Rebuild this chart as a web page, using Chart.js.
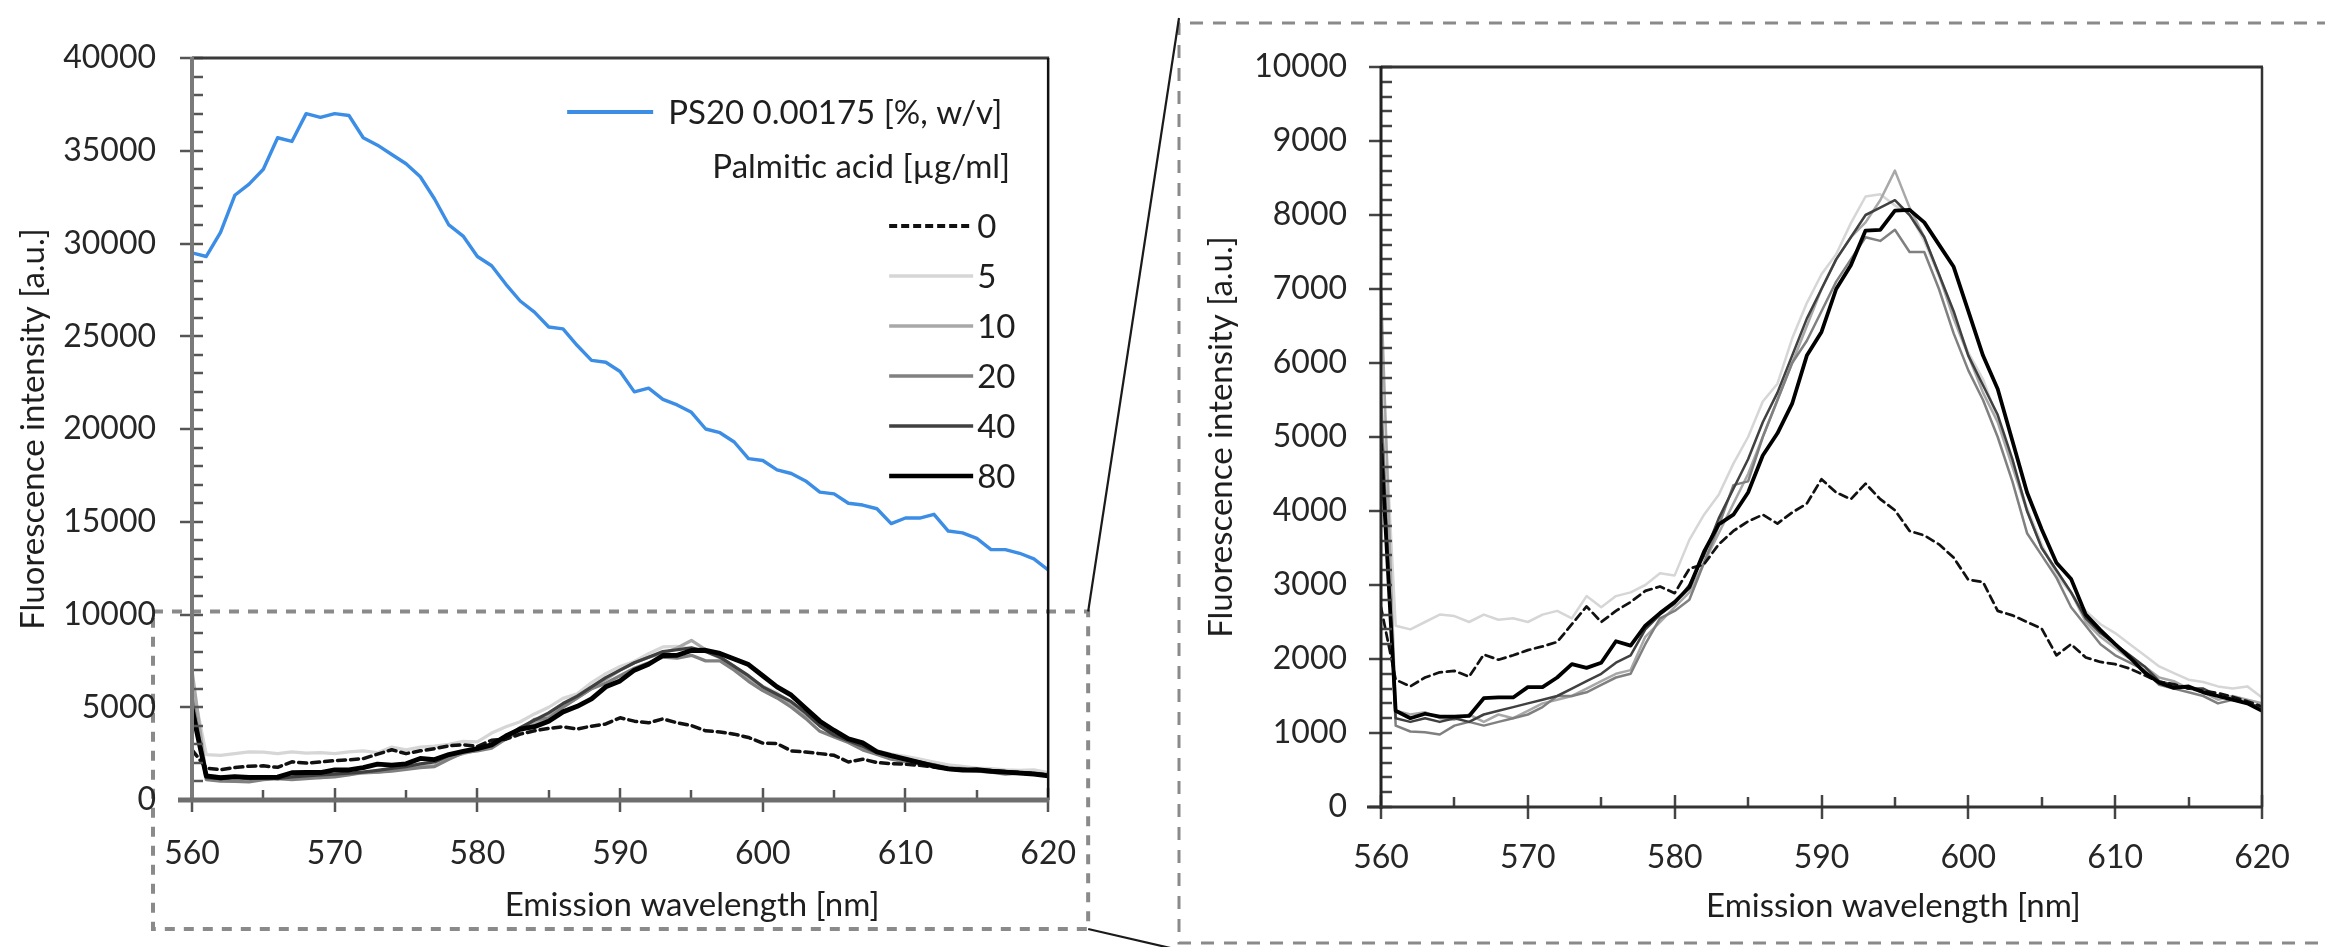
<!DOCTYPE html>
<html>
<head>
<meta charset="utf-8">
<script src="https://cdn.jsdelivr.net/npm/chart.js@4.4.0/dist/chart.umd.min.js"></script>
<style>
  html, body { margin: 0; padding: 0; background: #fff; }
  #wrap { position: relative; width: 2325px; height: 947px; overflow: hidden; }
  canvas { position: absolute; top: 0; }
  #deco { left: 0; }
  #leftChart { left: 0; }
  #rightChart { left: 1190px; }
</style>
</head>
<body>
<div id="wrap">
  <canvas id="deco" width="2325" height="947"></canvas>
  <canvas id="leftChart" width="1110" height="947"></canvas>
  <canvas id="rightChart" width="1135" height="947"></canvas>
</div>
<script>
// emission wavelength [nm]
const wavelengths = [560,561,562,563,564,565,566,567,568,569,570,571,572,573,574,575,576,577,578,579,
  580,581,582,583,584,585,586,587,588,589,590,591,592,593,594,595,596,597,598,599,
  600,601,602,603,604,605,606,607,608,609,610,611,612,613,614,615,616,617,618,619,620];

// PS20 0.00175 % alone
const ps20 = [29500,29300,30600,32600,33200,34000,35700,35500,37000,36800,37000,36900,35700,35300,34800,34300,33600,32400,31000,30400,
  29300,28800,27800,26900,26300,25500,25400,24500,23700,23600,23100,22000,22200,21600,21300,20900,20000,19800,19300,18400,
  18300,17800,17600,17200,16600,16500,16000,15900,15700,14900,15200,15200,15400,14500,14400,14100,13500,13500,13300,13000,12400];

// palmitic acid series
const pa0 = [2700,1720,1630,1750,1820,1840,1760,2060,1990,2050,2120,2170,2230,2470,2710,2500,2650,2770,2920,2980,
  2890,3220,3280,3550,3730,3860,3950,3830,3980,4100,4430,4250,4160,4370,4160,4010,3730,3670,3550,3370,
  3070,3040,2650,2590,2500,2410,2050,2200,2020,1960,1930,1870,1780,1690,1660,1600,1570,1540,1490,1430,1360];
const pa5 = [6300,2450,2400,2500,2600,2580,2500,2600,2530,2550,2500,2600,2650,2550,2850,2700,2850,2900,3000,3160,
  3130,3610,3950,4220,4640,5000,5480,5720,6330,6810,7200,7470,7890,8250,8280,8130,8010,7650,7170,6630,
  6140,5780,5240,4640,4040,3550,3130,2890,2650,2470,2350,2200,2050,1900,1810,1720,1690,1630,1600,1630,1480];
const pa10 = [7000,1300,1250,1280,1200,1180,1250,1150,1250,1200,1300,1400,1450,1500,1600,1700,1800,1850,2300,2500,
  2700,2900,3300,3700,4100,4500,5000,5500,6000,6500,7000,7400,7700,7900,8200,8600,8100,7700,7200,6600,
  6100,5600,5200,4600,4000,3500,3200,2900,2500,2300,2150,2000,1900,1750,1700,1600,1550,1450,1500,1450,1400];
const pa20 = [5600,1100,1020,1010,980,1100,1150,1100,1150,1200,1250,1350,1500,1500,1550,1650,1750,1800,2200,2550,
  2650,2800,3300,3800,4350,4400,5000,5500,6000,6300,6700,7100,7400,7700,7650,7800,7500,7500,7000,6400,
  5900,5500,5000,4400,3700,3400,3100,2700,2450,2200,2050,1950,1850,1650,1600,1550,1500,1400,1450,1400,1350];
const pa40 = [5200,1200,1150,1200,1150,1200,1150,1250,1300,1350,1400,1450,1500,1600,1700,1800,1950,2050,2400,2600,
  2750,3000,3400,3900,4300,4700,5200,5600,6100,6600,7000,7400,7700,8000,8100,8200,8000,7700,7200,6700,
  6100,5700,5300,4700,4000,3500,3200,2900,2550,2350,2200,2050,1900,1700,1650,1600,1600,1500,1450,1400,1350];
const pa80 = [4900,1300,1200,1260,1220,1220,1230,1470,1480,1480,1620,1620,1750,1930,1880,1950,2240,2180,2450,2620,
  2770,2970,3450,3820,3950,4250,4750,5050,5450,6100,6420,7000,7320,7790,7800,8060,8070,7900,7600,7300,
  6700,6100,5650,4950,4250,3750,3300,3080,2600,2390,2200,2020,1820,1680,1610,1630,1550,1500,1450,1400,1300];

const ps20Label = "PS20 0.00175 [%, w/v]";
const paTitle = "Palmitic acid [µg/ml]";
const paLabels = ["0", "5", "10", "20", "40", "80"];
const paSeries = [pa0, pa5, pa10, pa20, pa40, pa80];
const paColors = ["#111111", "#d6d6d6", "#a8a8a8", "#808080", "#404040", "#000000"];
const paWidths = [2.6, 2.4, 2.4, 2.4, 2.4, 3.6];
const paOrder = [2, 6, 5, 4, 3, 1];
const xTitle = "Emission wavelength [nm]";
const yTitle = "Fluorescence intensity [a.u.]";

const FONT = "Lato, 'Open Sans', sans-serif";

function pts(series) {
    return wavelengths.map((w, i) => ({ x: w, y: series[i] }));
}

function paDatasets(widthScale) {
    return paSeries.map((s, i) => ({
        label: paLabels[i],
        data: pts(s),
        borderColor: paColors[i],
        borderWidth: paWidths[i] * widthScale,
        borderDash: i === 0 ? [8, 5] : [],
        pointRadius: 0,
        tension: 0,
        order: paOrder[i]
    }));
}

// axis frame, tick marks and axis titles
function framePlugin(cfg) {
    return {
        id: "frame",
        afterDraw(chart) {
            const ctx = chart.ctx, a = chart.chartArea;
            const xs = chart.scales.x, ys = chart.scales.y;
            ctx.save();
            ctx.setLineDash([]);
            ctx.strokeStyle = cfg.tickColor;
            ctx.lineWidth = 2.5;
            for (let v = ys.min; v <= ys.max; v += cfg.yMinor) {
                const py = Math.round(ys.getPixelForValue(v));
                const major = v % cfg.yMajor === 0;
                ctx.beginPath();
                ctx.moveTo(a.left - (major ? 12 : 0), py);
                ctx.lineTo(a.left + 11, py);
                ctx.stroke();
            }
            for (let v = xs.min; v <= xs.max; v += 5) {
                const px = Math.round(xs.getPixelForValue(v));
                const major = v % 10 === 0;
                ctx.beginPath();
                ctx.moveTo(px, a.bottom + (major ? 12 : 0));
                ctx.lineTo(px, a.bottom - (major ? 12 : 10));
                ctx.stroke();
            }
            const line = (x1, y1, x2, y2, c, w) => {
                ctx.strokeStyle = c; ctx.lineWidth = w;
                ctx.beginPath(); ctx.moveTo(x1, y1); ctx.lineTo(x2, y2); ctx.stroke();
            };
            line(a.left, a.top, a.right + 1, a.top, cfg.topColor, 3);
            line(a.right, a.top, a.right, a.bottom, cfg.rightColor, 2.5);
            line(a.left, a.top - 1, a.left, a.bottom + 2, cfg.leftColor, cfg.leftWidth);
            line(a.left - 14, a.bottom, a.right + 1, a.bottom, cfg.bottomColor, cfg.bottomWidth);

            ctx.fillStyle = "#1e1e1e";
            ctx.font = "33px " + FONT;
            ctx.textAlign = "center";
            ctx.textBaseline = "middle";
            ctx.fillText(xTitle, (a.left + a.right) / 2 + 72, cfg.xTitleY);
            ctx.translate(cfg.yTitleX, (a.top + a.bottom) / 2);
            ctx.rotate(-Math.PI / 2);
            ctx.fillText(yTitle, 0, 0);
            ctx.restore();
        }
    };
}

// legend of the overview chart
const legendPlugin = {
    id: "customLegend",
    afterDraw(chart) {
        const ctx = chart.ctx, a = chart.chartArea;
        ctx.save();
        ctx.font = "33px " + FONT;
        ctx.fillStyle = "#1e1e1e";
        ctx.textBaseline = "middle";
        const blue = chart.data.datasets[0];
        ctx.strokeStyle = blue.borderColor;
        ctx.lineWidth = 4;
        ctx.beginPath(); ctx.moveTo(a.right - 481, 112); ctx.lineTo(a.right - 395, 112); ctx.stroke();
        ctx.textAlign = "left";
        ctx.fillText(ps20Label, a.right - 380, 113);
        ctx.textAlign = "right";
        ctx.fillText(paTitle, a.right - 38, 167);
        ctx.textAlign = "left";
        paLabels.forEach((lab, i) => {
            const ds = chart.data.datasets[i + 1];
            const y = 226 + i * 50;
            ctx.strokeStyle = ds.borderColor;
            ctx.lineWidth = i === 5 ? 4.5 : (i === 0 ? 4 : 3.5);
            ctx.setLineDash(i === 0 ? [8, 4] : []);
            ctx.beginPath(); ctx.moveTo(a.right - 159, y); ctx.lineTo(a.right - 75, y); ctx.stroke();
            ctx.setLineDash([]);
            ctx.fillText(lab, a.right - 71, y + 1);
        });
        ctx.restore();
    }
};

function scaleOpts(min, max, step, pad, fitW, fitH) {
    return {
        x: {
            type: "linear", min: 560, max: 620,
            grid: { display: false, drawTicks: false },
            border: { display: false },
            ticks: { stepSize: 10, padding: pad.x, color: "#262626", font: { family: FONT, size: 32 }, maxRotation: 0,
                     callback: v => String(v) },
            afterFit(s) { s.height = fitH; }
        },
        y: {
            type: "linear", min: min, max: max,
            grid: { display: false, drawTicks: false },
            border: { display: false },
            ticks: { stepSize: step, padding: pad.y, color: "#262626", font: { family: FONT, size: 32 },
                     callback: v => String(v) },
            afterFit(s) { s.width = fitW; }
        }
    };
}

const commonOpts = {
    responsive: false,
    animation: false,
    devicePixelRatio: 1,
    plugins: { legend: { display: false }, tooltip: { enabled: false } },
    elements: { line: { borderJoinStyle: "round", borderCapStyle: "round" } }
};

const leftChart = new Chart(document.getElementById("leftChart"), {
    type: "line",
    data: {
        datasets: [{
            label: ps20Label,
            data: pts(ps20),
            borderColor: "#3b8de6",
            borderWidth: 3.4,
            pointRadius: 0,
            tension: 0,
            order: 0
        }].concat(paDatasets(1.35))
    },
    options: Object.assign({}, commonOpts, {
        layout: { padding: { left: 0, top: 58, right: 41, bottom: 0 } },
        scales: scaleOpts(0, 40000, 5000, { x: 34, y: 36 }, 192, 147)
    }),
    plugins: [framePlugin({
        yMinor: 1000, yMajor: 5000, tickColor: "#555",
        topColor: "#3a3a3a", rightColor: "#111", leftColor: "#7a7a7a", leftWidth: 4,
        bottomColor: "#6e6e6e", bottomWidth: 5, xTitleY: 905, yTitleX: 33
    }), legendPlugin]
});

const rightChart = new Chart(document.getElementById("rightChart"), {
    type: "line",
    data: { datasets: paDatasets(1.05) },
    options: Object.assign({}, commonOpts, {
        layout: { padding: { left: 0, top: 67, right: 63, bottom: 0 } },
        scales: scaleOpts(0, 10000, 1000, { x: 31, y: 34 }, 191, 140)
    }),
    plugins: [framePlugin({
        yMinor: 200, yMajor: 1000, tickColor: "#444",
        topColor: "#333", rightColor: "#333", leftColor: "#222", leftWidth: 3,
        bottomColor: "#333", bottomWidth: 3, xTitleY: 906, yTitleX: 31
    })]
});

// zoom boxes and connector lines
function drawDeco() {
    const ctx = document.getElementById("deco").getContext("2d");
    const la = leftChart.chartArea;
    const yTop = leftChart.scales.y.getPixelForValue(10000) - 3;
    const boxL = la.left - 39, boxR = la.right + 40, boxB = 929;
    const rx = 1179, rTop = 23, rBot = 943;
    ctx.strokeStyle = "#8a8a8a";
    ctx.lineWidth = 4;
    ctx.setLineDash([10, 9]);
    ctx.strokeRect(boxL, yTop, boxR - boxL, boxB - yTop);
    ctx.lineWidth = 3;
    ctx.setLineDash([13, 10]);
    ctx.beginPath();
    ctx.moveTo(2330, rTop); ctx.lineTo(rx, rTop); ctx.lineTo(rx, rBot); ctx.lineTo(2330, rBot);
    ctx.stroke();
    ctx.setLineDash([]);
    ctx.strokeStyle = "#1a1a1a";
    ctx.lineWidth = 2.2;
    ctx.beginPath(); ctx.moveTo(boxR, yTop); ctx.lineTo(rx, 18); ctx.stroke();
    ctx.beginPath(); ctx.moveTo(boxR, boxB); ctx.lineTo(rx, 950); ctx.stroke();
}
drawDeco();
</script>
</body>
</html>
